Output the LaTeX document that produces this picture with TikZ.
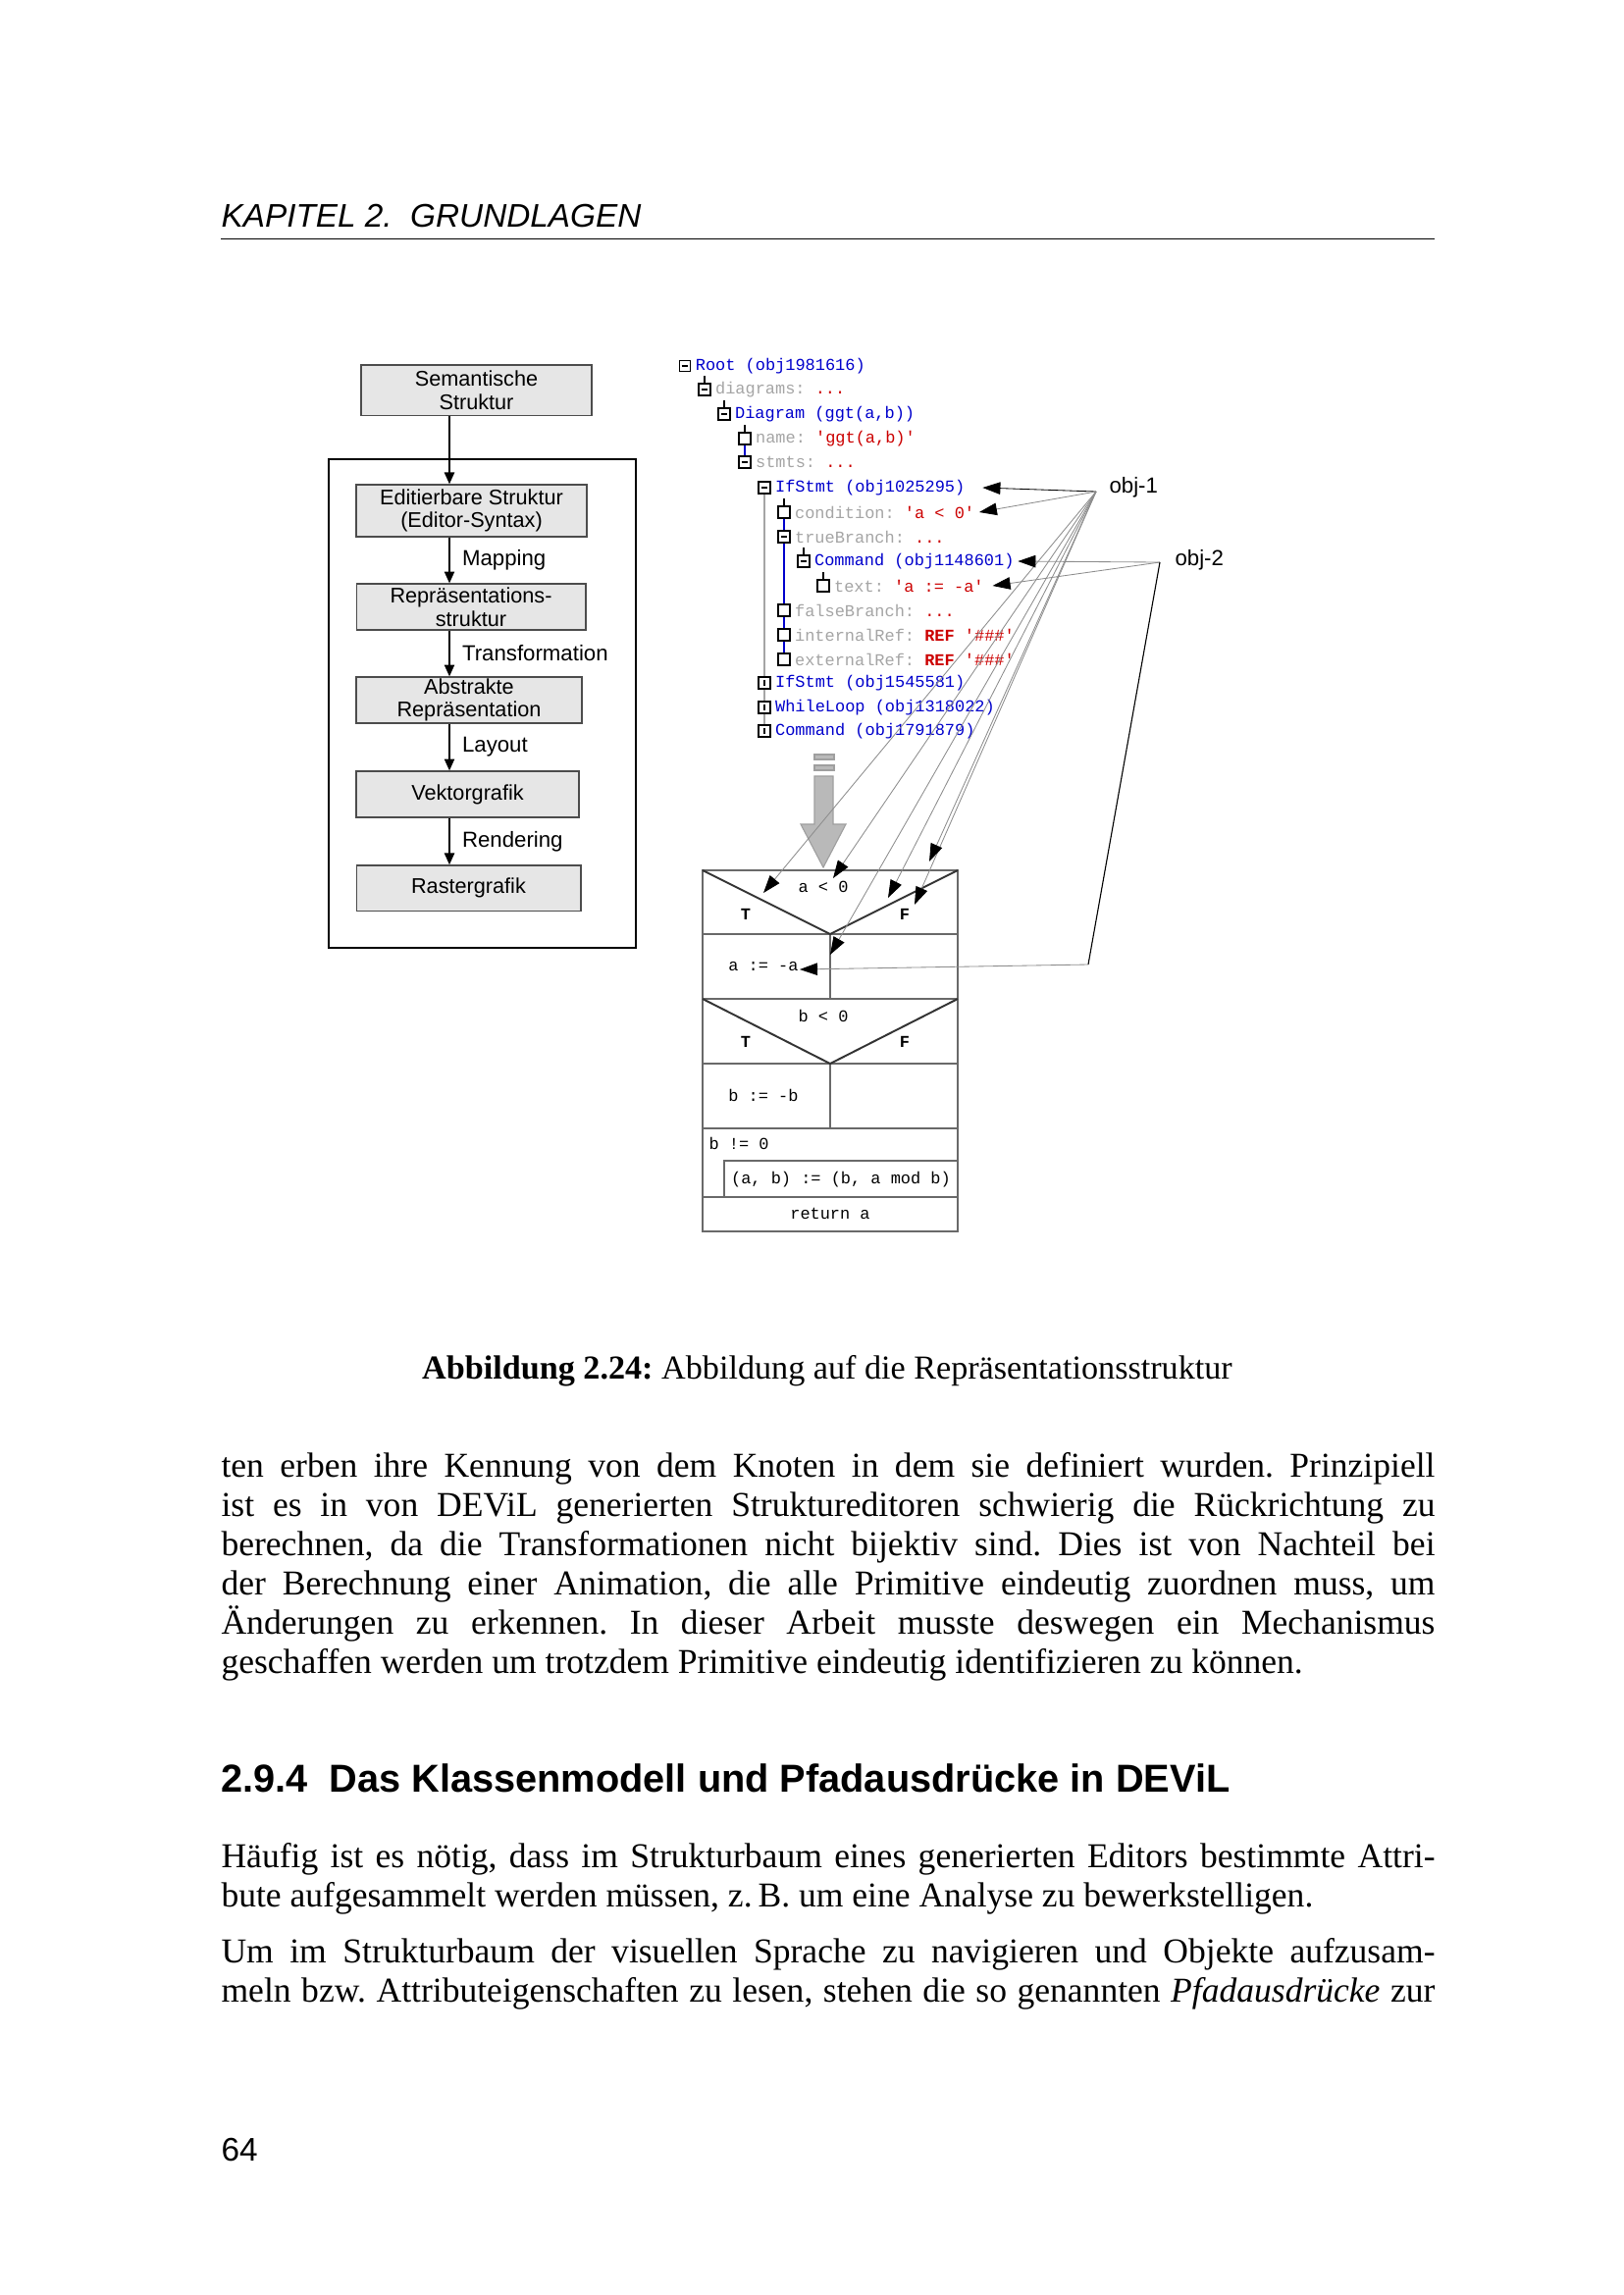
\documentclass[tikz,border=0pt]{standalone}
\usepackage{fontspec}
\setmainfont{Liberation Serif}
\newfontfamily\arialfont{Liberation Sans}
\newfontfamily\monofont{Liberation Mono}
\usetikzlibrary{arrows.meta, positioning}
\frenchspacing

\definecolor{treeblue}{RGB}{0,0,204}
\definecolor{treegray}{RGB}{165,165,165}
\definecolor{treered}{RGB}{204,0,0}
\definecolor{boxfill}{RGB}{230,230,230}
\definecolor{nsline}{RGB}{105,105,105}

\newcommand{\sq}{\textquotesingle}
\newcommand{\attr}[2]{\textcolor{treegray}{#1:} \textcolor{treered}{#2}}
\newcommand{\fullline}[1]{\makebox[445.3pt][s]{#1}}

\begin{document}
\begin{tikzpicture}[
    x=0.36pt, y=-0.36pt,
    stage/.style={draw=black!70, fill=boxfill, align=center, inner sep=0pt,
      font=\arialfont\fontsize{7.8}{8.5}\selectfont},
    frame/.style={draw, line width=1pt, inner sep=0pt},
    lbl/.style={anchor=west, inner sep=0pt, font=\arialfont\fontsize{8}{9.4}\selectfont},
    arr/.style={-{Triangle[length=4.3pt,width=3.6pt]}, line width=0.8pt},
    ico/.style={draw, line width=0.6pt, fill=white, minimum size=4.2pt, inner sep=0pt},
    icominus/.style={ico, path picture={
      \draw ([xshift=0.9pt]path picture bounding box.west) -- ([xshift=-0.9pt]path picture bounding box.east);}},
    icoplus/.style={icominus, path picture={
      \draw ([yshift=-0.9pt]path picture bounding box.north) -- ([yshift=0.9pt]path picture bounding box.south);}},
    row/.style={anchor=west, inner sep=0pt, font=\monofont\fontsize{6.1}{7}\selectfont},
    treeline/.style={draw=treegray, line width=0.4pt},
    blueline/.style={draw=treeblue, line width=0.8pt},
    objarr/.style={-{Triangle[length=6.5pt,width=4.5pt,black]}, line width=0.3pt, draw=black!45},
    ns/.style={draw=nsline, line width=0.8pt},
    nstext/.style={inner sep=0pt, font=\monofont\fontsize{6.1}{7}\selectfont},
    body/.style={anchor=base west, inner sep=0pt, font=\fontsize{12.8}{14.5}\selectfont}
]
\useasboundingbox (0,0) rectangle (1654,2339);
\fill[white] (0,0) rectangle (1654,2339);

% page head
\node[anchor=base west, inner sep=0pt, font=\arialfont\itshape\fontsize{12}{14}\selectfont] (hdr) at (225,231) {KAPITEL 2.\ \ GRUNDLAGEN};
\draw[line width=0.3pt] (225,243) -- (1462,243);

% pipeline
\node[frame, minimum width=112.7pt, minimum height=179.3pt] (frm) at (491.5,717) {};
\node[stage, minimum width=84.6pt, minimum height=18.4pt] (sem) at (485.5,397.5) {Semantische\\Struktur};
\node[stage, minimum width=84.6pt, minimum height=19.1pt] (edit) at (480.5,520.5) {Editierbare Struktur\\(Editor-Syntax)};
\node[stage, minimum width=84.2pt, minimum height=16.9pt] (rep) at (480,618.5) {Repräsentations-\\struktur};
\node[stage, minimum width=82.8pt, minimum height=16.9pt] (abs) at (478,713.5) {Abstrakte\\Repräsentation};
\node[stage, minimum width=81.7pt, minimum height=16.9pt] (vek) at (476.5,809.5) {Vektorgrafik};
\node[stage, minimum width=82.4pt, minimum height=16.6pt] (ras) at (477.5,905) {Rastergrafik};
\coordinate (ax) at (458,0);

\draw[arr] (sem.south -| ax) -- (edit.north -| ax);
\draw[arr] (edit.south -| ax) -- node[lbl, xshift=4.3pt] {Mapping} (rep.north -| ax);
\draw[arr] (rep.south -| ax) -- node[lbl, xshift=4.3pt] {Transformation} (abs.north -| ax);
\draw[arr] (abs.south -| ax) -- node[lbl, xshift=4.3pt] {Layout} (vek.north -| ax);
\draw[arr] (vek.south -| ax) -- node[lbl, xshift=4.3pt] {Rendering} (ras.north -| ax);

% object tree
\node[icominus, line width=0.4pt] (i1) at (698,373) {};
\node[icominus] (i2) at (718,397) {};
\node[icominus] (i3) at (738,422) {};
\node[ico] (i4) at (759,447) {};
\node[icominus] (i5) at (759,471) {};
\node[icominus] (i6) at (779,497) {};
\node[ico] (i7) at (799,522) {};
\node[icominus] (i8) at (799,547) {};
\node[icominus] (i9) at (819,572) {};
\node[ico] (i10) at (839,597) {};
\node[ico] (i11) at (799,622) {};
\node[ico] (i12) at (799,647) {};
\node[ico] (i13) at (799,672) {};
\node[icoplus] (i14) at (779,696) {};
\node[icoplus] (i15) at (779,721) {};
\node[icoplus] (i16) at (779,745) {};

\node[row, right=1.4pt of i1] (r1) {\textcolor{treeblue}{Root (obj1981616)}};
\node[row, right=1.4pt of i2] (r2) {\attr{diagrams}{...}};
\node[row, right=1.4pt of i3] (r3) {\textcolor{treeblue}{Diagram (ggt(a,b))}};
\node[row, right=1.4pt of i4] (r4) {\attr{name}{\sq ggt(a,b)\sq}};
\node[row, right=1.4pt of i5] (r5) {\attr{stmts}{...}};
\node[row, right=1.4pt of i6] (r6) {\textcolor{treeblue}{IfStmt (obj1025295)}};
\node[row, right=1.4pt of i7] (r7) {\attr{condition}{\sq a < 0\sq}};
\node[row, right=1.4pt of i8] (r8) {\attr{trueBranch}{...}};
\node[row, right=1.4pt of i9] (r9) {\textcolor{treeblue}{Command (obj1148601)}};
\node[row, right=1.4pt of i10] (r10) {\attr{text}{\sq a := -a\sq}};
\node[row, right=1.4pt of i11] (r11) {\attr{falseBranch}{...}};
\node[row, right=1.4pt of i12] (r12) {\attr{internalRef}{\textbf{REF} \sq\#\#\#\sq}};
\node[row, right=1.4pt of i13] (r13) {\attr{externalRef}{\textbf{REF} \sq\#\#\#\sq}};
\node[row, right=1.4pt of i14] (r14) {\textcolor{treeblue}{IfStmt (obj1545581)}};
\node[row, right=1.4pt of i15] (r15) {\textcolor{treeblue}{WhileLoop (obj1318022)}};
\node[row, right=1.4pt of i16] (r16) {\textcolor{treeblue}{Command (obj1791879)}};

\draw[line width=0.4pt] (i2.north) -- ++(0,-7);
\draw[line width=0.4pt] (i3.north) -- ++(0,-7);
\draw[line width=0.4pt] (i4.north) -- ++(0,-7);
\draw[line width=0.4pt] (i7.north) -- ++(0,-7);
\draw[line width=0.4pt] (i9.north) -- ++(0,-7);
\draw[line width=0.4pt] (i10.north) -- ++(0,-7);
\draw[blueline] (i4.south) -- (i5.north);
\draw[treeline] (i6.south) -- (i14.north);
\draw[treeline] (i14.south) -- (i15.north);
\draw[treeline] (i15.south) -- (i16.north);
\draw[blueline] (i7.south) -- (i8.north);
\draw[blueline] (i8.south) -- (i11.north);
\draw[blueline] (i11.south) -- (i12.north);
\draw[blueline] (i12.south) -- (i13.north);

% transformation arrow
\fill[gray!55, draw=gray!75] (830,769) rectangle (850,774);
\fill[gray!55, draw=gray!75] (830,780) rectangle (850,785);
\fill[gray!55, draw=gray!75] (830,791) -- (849,791) -- (849,840) -- (862,840) -- (839,884) -- (816,840) -- (830,840) -- cycle;

% Nassi-Shneiderman diagram
\draw[ns] (716,887) rectangle (976,1255);
\draw[ns] (716,952) -- (976,952);
\draw[ns] (716,1018) -- (976,1018);
\draw[ns] (716,1084) -- (976,1084);
\draw[ns] (716,1150) -- (976,1150);
\draw[ns] (716,1220) -- (976,1220);
\draw[ns] (738,1220) -- (738,1183) -- (976,1183);
\draw[ns] (846,952) -- (846,1018);
\draw[ns] (846,1084) -- (846,1150);
\draw[line width=0.7pt, draw=black!80] (716,887) -- (846,952) -- (976,887);
\draw[line width=0.7pt, draw=black!80] (716,1018) -- (846,1084) -- (976,1018);

\node[nstext] (c1) at (839,904) {a < 0};
\node[nstext, font=\monofont\bfseries\fontsize{6.1}{7}\selectfont] (t1T) at (760,932) {T};
\node[nstext, font=\monofont\bfseries\fontsize{6.1}{7}\selectfont] (t1F) at (922,932) {F};
\node[nstext] (s1) at (778,985) {a := -a};
\node[nstext] (c2) at (839,1035) {b < 0};
\node[nstext, font=\monofont\bfseries\fontsize{6.1}{7}\selectfont] (t2T) at (760,1062) {T};
\node[nstext, font=\monofont\bfseries\fontsize{6.1}{7}\selectfont] (t2F) at (922,1062) {F};
\node[nstext] (s2) at (778,1116) {b := -b};
\node[nstext, anchor=west] (loop) at (722,1165) {b != 0};
\node[nstext] (s3) at (857,1202) {(a, b) := (b, a mod b)};
\node[nstext] (ret) at (846,1237) {return a};

% object mapping
\node[lbl] (objA) at (1130,497) {obj-1};
\node[lbl] (objB) at (1197,571) {obj-2};
\coordinate (o1) at (1117,501);
\coordinate (o2) at (1182,573);
\coordinate (kink) at (1109,983);
\coordinate (p1) at (778,910);
\coordinate (p2) at (849,895);
\coordinate (p3) at (905,915);
\coordinate (p4) at (932,922);
\coordinate (p5) at (947,878);
\coordinate (p6) at (846,973);
\coordinate (p7) at (815,988);

\draw[objarr, draw=black] (o1) -- ([xshift=6.3pt]r6.east);
\draw[objarr] (o1) -- ([xshift=1.5pt]r7.east);
\draw[objarr] (o1) -- (p1);
\draw[objarr] (o1) -- (p2);
\draw[objarr] (o1) -- (p3);
\draw[objarr] (o1) -- (p4);
\draw[objarr] (o1) -- (p5);
\draw[objarr] (o1) -- (p6);
\draw[objarr] (o2) -- ([xshift=1.2pt]r9.east);
\draw[objarr] (o2) -- ([xshift=3pt]r10.east);
\draw[line width=0.4pt] (o2) -- (kink);
\draw[objarr] (kink) -- (p7);

% caption and text
\node[anchor=base, inner sep=0pt, font=\fontsize{12.3}{14}\selectfont] (cap) at (843,1405) {\textbf{Abbildung 2.24:} Abbildung auf die Repräsentationsstruktur};

\node[body] (l1) at (225,1505) {\fullline{ten erben ihre Kennung von dem Knoten in dem sie definiert wurden. Prinzipiell}};
\node[body] (l2) at (225,1545) {\fullline{ist es in von DEViL generierten Struktureditoren schwierig die Rückrichtung zu}};
\node[body] (l3) at (225,1585) {\fullline{berechnen, da die Transformationen nicht bijektiv sind. Dies ist von Nachteil bei}};
\node[body] (l4) at (225,1625) {\fullline{der Berechnung einer Animation, die alle Primitive eindeutig zuordnen muss, um}};
\node[body] (l5) at (225,1665) {\fullline{Änderungen zu erkennen. In dieser Arbeit musste deswegen ein Mechanismus}};
\node[body] (l6) at (225,1705) {geschaffen werden um trotzdem Primitive eindeutig identifizieren zu können.};

\node[anchor=base west, inner sep=0pt, font=\arialfont\bfseries\fontsize{14.3}{17}\selectfont] (sec) at (225,1826) {2.9.4\hspace{0.55em}Das Klassenmodell und Pfadausdrücke in DEViL};

\node[body] (m1) at (225,1903) {\fullline{Häufig ist es nötig, dass im Strukturbaum eines generierten Editors bestimmte Attri-}};
\node[body] (m2) at (225,1943) {bute aufgesammelt werden müssen, z.\,B. um eine Analyse zu bewerkstelligen.};
\node[body] (n1) at (225,2000) {\fullline{Um im Strukturbaum der visuellen Sprache zu navigieren und Objekte aufzusam-}};
\node[body] (n2) at (225,2040) {\fullline{meln bzw. Attributeigenschaften zu lesen, stehen die so genannten \emph{Pfadausdrücke} zur}};

\node[anchor=base west, inner sep=0pt, font=\arialfont\fontsize{12}{14}\selectfont] (pg) at (225,2202) {64};
\end{tikzpicture}
\end{document}
